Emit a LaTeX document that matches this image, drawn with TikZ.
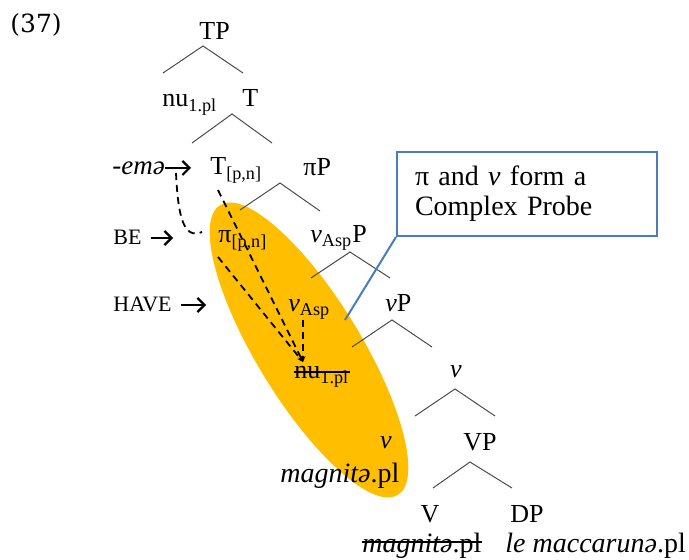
\documentclass[tikz,border=0pt]{standalone}
\usepackage{fontspec}
\setmainfont{Liberation Serif}
\newfontfamily\exfont{DejaVu Serif}
\usetikzlibrary{arrows.meta}
\definecolor{probeblue}{RGB}{74,126,187}
\definecolor{probegold}{RGB}{255,190,0}
\tikzset{
    treelabel/.style={inner sep=0pt, anchor=base west, font=\fontsize{13}{15}\selectfont},
    sidelabel/.style={inner sep=0pt, anchor=base west, font=\fontsize{11}{13}\selectfont},
    branch/.style={draw=black!70, line width=0.5pt},
    strike/.style={draw, line width=0.8pt},
    pointer/.style={draw, line width=1.2pt, -{Straight Barb[length=3.5pt, width=7pt, line width=1.1pt]}},
    agreeline/.style={draw, dash pattern=on 3.5pt off 2.5pt, line width=0.9pt},
    probebox/.style={rectangle, draw=probeblue, line width=1pt, minimum width=130pt, minimum height=42pt, inner xsep=9pt, text width=112pt, align=left, font=\fontsize{14}{15}\selectfont},
    probeline/.style={draw=probeblue, line width=1pt}
}

\begin{document}
\begin{tikzpicture}[x=0.5pt, y=-0.5pt]
        \useasboundingbox (0,0) rectangle (689,560);

        % the complex probe
        \fill [probegold, rotate around={-58.5:(309,350)}] (309,350) ellipse [x radius=85pt, y radius=26pt];

        \node [anchor=base west, inner sep=0pt, font=\exfont\fontsize{12.5}{14}\selectfont] (ex) at (10,33) {(37)};

        % tree
        \node [treelabel] (TP) at (199,40) {TP};
        \node [treelabel] (nu) at (162,107) {nu\textsubscript{1.pl}};
        \node [treelabel] (T) at (242,107) {T};
        \node [treelabel, font=\fontsize{13.5}{15}\selectfont] (ema) at (112,175) {\textit{-emə}};
        \node [treelabel] (Tpn) at (210,175) {T\textsubscript{[p,n]}};
        \node [treelabel] (piP) at (303,176) {πP};
        \node [sidelabel] (be) at (113,245) {BE};
        \node [treelabel] (pipn) at (218,243) {π\textsubscript{[p,n]}};
        \node [treelabel] (vAspP) at (310,243) {\textit{v}\textsubscript{Asp}P};
        \node [sidelabel] (have) at (113,312) {HAVE};
        \node [treelabel] (vAsp) at (288,312) {\textit{v}\textsubscript{Asp}};
        \node [treelabel] (vP) at (385,312) {\textit{v}P};
        \node [treelabel] (nulow) at (294,379) {nu\textsubscript{1.pl}};
        \node [treelabel, anchor=base] (vbar) at (456,378) {\textit{v}};
        \node [treelabel, anchor=base] (vhead) at (386,448) {\textit{v}};
        \node [treelabel] (VP) at (463,450) {VP};
        \node [treelabel, font=\fontsize{14}{15}\selectfont] (magn) at (280,482) {\textit{magnitə}.pl};
        \node [treelabel, anchor=base] (V) at (430,522) {V};
        \node [treelabel] (DP) at (510,522) {DP};
        \node [treelabel, font=\fontsize{14}{15}\selectfont] (magnlow) at (362,552) {\textit{magnitə}.pl};
        \node [treelabel, font=\fontsize{14}{15}\selectfont] (obj) at (505,552) {\textit{le maccarunə}.pl};

        % deleted copies
        \draw [strike] ([yshift=3.5pt]nulow.base west) -- ([yshift=3.5pt]nulow.base east);
        \draw [strike] ([yshift=5pt]magnlow.base west) -- ([yshift=5pt]magnlow.base east);

        % pointers to the heads
        \coordinate (ema-tip) at (191,168);
        \coordinate (be-tip) at (173,238);
        \coordinate (have-tip) at (206,305);
        \draw [pointer] (ema.east |- ema-tip) -- (ema-tip);
        \draw [pointer] ([xshift=4.5pt]be.east |- be-tip) -- (be-tip);
        \draw [pointer] ([xshift=4.5pt]have.east |- have-tip) -- (have-tip);

        % branch points
        \coordinate (TP-a) at (203,46);  \coordinate (TP-l) at (163,73);  \coordinate (TP-r) at (243,73);
        \coordinate (T-a) at (232,114);  \coordinate (T-l) at (192,143);  \coordinate (T-r) at (272,143);
        \coordinate (piP-a) at (280,183);  \coordinate (piP-l) at (240,210);  \coordinate (piP-r) at (320,211);
        \coordinate (vAspP-a) at (350,252);  \coordinate (vAspP-l) at (311,278);  \coordinate (vAspP-r) at (390,278);
        \coordinate (vP-a) at (392,320);  \coordinate (vP-l) at (352,347);  \coordinate (vP-r) at (432,347);
        \coordinate (vbar-a) at (455,389);  \coordinate (vbar-l) at (415,416);  \coordinate (vbar-r) at (495,416);
        \coordinate (VP-a) at (470,462);  \coordinate (VP-l) at (433,488);  \coordinate (VP-r) at (512,488);

        \draw [branch] (TP-l) -- (TP-a) -- (TP-r);
        \draw [branch] (T-l) -- (T-a) -- (T-r);
        \draw [branch] (piP-l) -- (piP-a) -- (piP-r);
        \draw [branch] (vAspP-l) -- (vAspP-a) -- (vAspP-r);
        \draw [branch] (vP-l) -- (vP-a) -- (vP-r);
        \draw [branch] (vbar-l) -- (vbar-a) -- (vbar-r);
        \draw [branch] (VP-l) -- (VP-a) -- (VP-r);

        % agreement paths
        \coordinate (ema-foot) at (176,173);
        \coordinate (ema-end) at (202,232);
        \coordinate (Tpn-foot) at (218,190);
        \coordinate (pipn-foot) at (218,257);
        \coordinate (vAsp-foot) at (303,320);
        \coordinate (goal) at (303,362);
        \draw [agreeline] (ema-foot) .. controls (178,215) and (183,240) .. (ema-end);
        \draw [agreeline, -{Stealth[length=3pt, width=2.5pt]}] (Tpn-foot) -- (goal);
        \draw [agreeline, -{Stealth[length=3pt, width=2.5pt]}] (pipn-foot) -- (goal);
        \draw [agreeline, -{Stealth[length=3pt, width=2.5pt]}] (vAsp-foot) -- (goal);

        % callout
        \node [probebox] (probe) at (527,194) {π and \textit{v} form a\\Complex Probe};
        \coordinate (probe-tip) at (345,320);
        \draw [probeline] (probe.south west) -- (probe-tip);

    \end{tikzpicture}
\end{document}
